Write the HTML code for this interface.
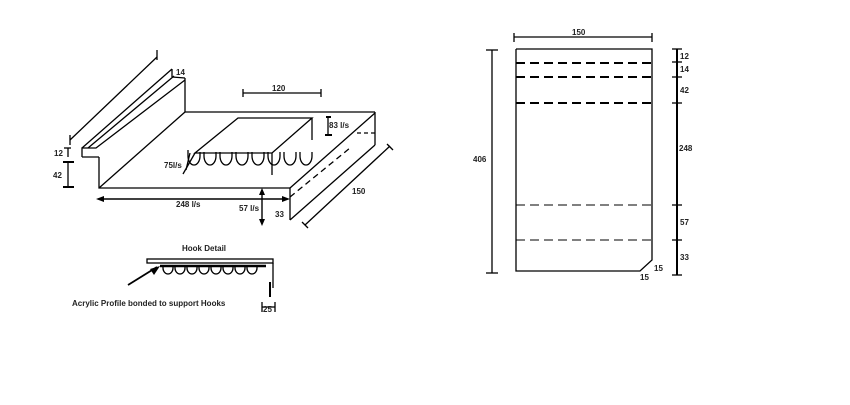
<!DOCTYPE html>
<html><head><style>
body{margin:0;background:#fff;width:850px;height:400px;overflow:hidden}
text{font-family:"Liberation Sans",sans-serif;font-size:8px;font-weight:bold;fill:#222}
</style></head><body>
<svg width="850" height="400" viewBox="0 0 850 400" xmlns="http://www.w3.org/2000/svg">
<g stroke="#000" stroke-width="1.3" fill="none">
<polyline points="82,157 82,148 96,148 185,80"/>
<line x1="82" y1="148" x2="172" y2="69"/>
<line x1="172" y1="69" x2="172" y2="77"/>
<line x1="172" y1="77" x2="185" y2="78"/>
<line x1="88" y1="148" x2="174" y2="76"/>
<line x1="82" y1="157" x2="99" y2="157"/>
<line x1="185" y1="78" x2="185" y2="112"/>
<polyline points="99,157 99,188 290,188"/>
<line x1="99" y1="188" x2="185" y2="112"/>
<line x1="185" y1="112" x2="375" y2="112"/>
<line x1="375" y1="112" x2="375" y2="145"/>
<line x1="290" y1="188" x2="375" y2="113"/>
<line x1="290" y1="188" x2="290" y2="220"/>
<line x1="290" y1="220" x2="375" y2="145"/>
<line x1="290" y1="197" x2="350" y2="148" stroke-dasharray="6,4"/>
<line x1="357" y1="133" x2="375" y2="133" stroke-dasharray="4,3"/>
<polygon points="238,118 312,118 272,153 195,153"/>
<line x1="272" y1="153" x2="272" y2="175"/>
<line x1="312" y1="118" x2="312" y2="140"/>
<line x1="195" y1="153" x2="183" y2="174"/>
<line x1="190" y1="153" x2="186" y2="170"/>
<path d="M188,150 v6 a6,9 0 0 0 12,0 v-4 M204,152 v4 a6,9 0 0 0 12,0 v-4 M220,152 v4 a6,9 0 0 0 12,0 v-4 M236,152 v4 a6,9 0 0 0 12,0 v-4 M252,152 v4 a6,9 0 0 0 12,0 v-4 M268,152 v4 a6,9 0 0 0 12,0 v-4 M284,152 v4 a6,9 0 0 0 12,0 v-4 M300,152 v4 a6,9 0 0 0 12,0 v-4"/>
<line x1="70" y1="140" x2="157" y2="57"/>
<line x1="70" y1="135" x2="70" y2="145"/>
<line x1="157" y1="50" x2="157" y2="60"/>
<line x1="243" y1="93" x2="321" y2="93"/>
<line x1="243" y1="89" x2="243" y2="97"/>
<line x1="321" y1="89" x2="321" y2="97"/>
<line x1="326" y1="117" x2="331" y2="117" stroke-width="2"/><line x1="328" y1="117" x2="328" y2="134"/><line x1="325" y1="135" x2="332" y2="135" stroke-width="2"/>
<line x1="305" y1="225" x2="390" y2="146"/>
<line x1="302" y1="222" x2="308" y2="228"/>
<line x1="387" y1="144" x2="393" y2="150"/>
<line x1="64" y1="148" x2="71" y2="148"/><line x1="68" y1="148" x2="68" y2="157"/>
<line x1="63" y1="162" x2="74" y2="162" stroke-width="2"/><line x1="68" y1="162" x2="68" y2="187"/><line x1="63" y1="187" x2="74" y2="187" stroke-width="2"/>
<line x1="100" y1="199" x2="286" y2="199" stroke-width="1.6"/>
<line x1="262" y1="190" x2="262" y2="223" stroke-width="1.4"/>
<rect x="147" y="259" width="126" height="4"/>
<line x1="273" y1="263" x2="273" y2="288"/>
<line x1="270" y1="282" x2="270" y2="297" stroke-width="2"/>
<line x1="160" y1="266" x2="266" y2="266" stroke-width="2.5"/>
<path d="M163,266 v2 a5,6 0 0 0 10,0 v-2 M175,266 v2 a5,6 0 0 0 10,0 v-2 M187,266 v2 a5,6 0 0 0 10,0 v-2 M199,266 v2 a5,6 0 0 0 10,0 v-2 M211,266 v2 a5,6 0 0 0 10,0 v-2 M223,266 v2 a5,6 0 0 0 10,0 v-2 M235,266 v2 a5,6 0 0 0 10,0 v-2 M247,266 v2 a5,6 0 0 0 10,0 v-2"/>
<line x1="128" y1="285" x2="157" y2="267" stroke-width="1.8"/>
<line x1="262" y1="302" x2="262" y2="312"/><line x1="262" y1="307" x2="275" y2="307"/><line x1="275" y1="302" x2="275" y2="312"/>
<polyline points="516,49 652,49 652,260 640,271 516,271 516,49"/>
<g stroke-width="2" stroke-dasharray="9,5"><line x1="516" y1="63" x2="652" y2="63"/><line x1="516" y1="77" x2="652" y2="77"/><line x1="516" y1="103" x2="652" y2="103"/></g>
<g stroke-width="1" stroke-dasharray="9,5"><line x1="516" y1="205" x2="652" y2="205"/><line x1="516" y1="240" x2="652" y2="240"/></g>
<line x1="514" y1="37" x2="652" y2="37"/><line x1="514" y1="33" x2="514" y2="42"/><line x1="652" y1="33" x2="652" y2="42"/>
<line x1="492" y1="50" x2="492" y2="273"/><line x1="486" y1="50" x2="498" y2="50"/><line x1="486" y1="273" x2="498" y2="273"/>
<line x1="677" y1="49" x2="677" y2="275" stroke-width="2"/>
<g><line x1="672" y1="49" x2="682" y2="49"/><line x1="672" y1="62" x2="682" y2="62"/><line x1="672" y1="77" x2="682" y2="77"/><line x1="672" y1="103" x2="682" y2="103"/><line x1="672" y1="205" x2="682" y2="205"/><line x1="672" y1="240" x2="682" y2="240"/><line x1="672" y1="275" x2="682" y2="275"/></g>
</g>
<g fill="#000"><polygon points="96,199 104,196 104,202"/><polygon points="290,199 282,196 282,202"/><polygon points="262,188 259,195 265,195"/><polygon points="262,226 259,219 265,219"/><polygon points="160,266 150,269 154,275"/></g>
<text x="176" y="75">14</text>
<text x="272" y="91">120</text>
<text x="329" y="128">83 l/s</text>
<text x="54" y="156">12</text>
<text x="53" y="178">42</text>
<text x="164" y="168">75l/s</text>
<text x="176" y="207">248 l/s</text>
<text x="239" y="211">57 l/s</text>
<text x="275" y="217">33</text>
<text x="352" y="194">150</text>
<text x="182" y="251">Hook Detail</text>
<text x="72" y="306">Acrylic Profile bonded to support Hooks</text>
<text x="263" y="312">25</text>
<text x="572" y="35">150</text>
<text x="473" y="162">406</text>
<text x="680" y="59">12</text>
<text x="680" y="72">14</text>
<text x="680" y="93">42</text>
<text x="679" y="151">248</text>
<text x="680" y="225">57</text>
<text x="680" y="260">33</text>
<text x="654" y="271">15</text>
<text x="640" y="280">15</text>
</svg>
</body></html>
